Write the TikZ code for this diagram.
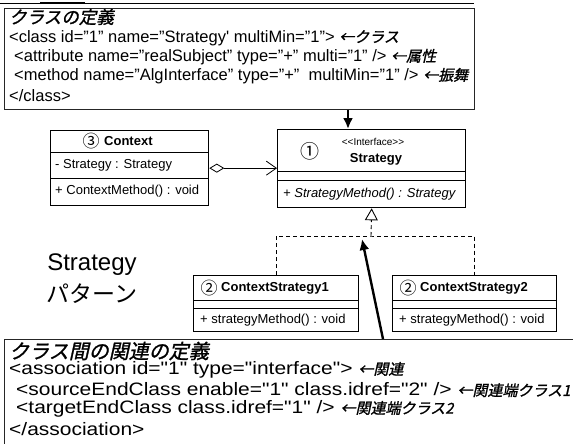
\documentclass[tikz,border=0pt]{standalone}
\usepackage{fontspec}
\setmainfont{Liberation Sans}
\newfontfamily\jpfont{Noto Sans CJK JP}
\newfontfamily\jpitfont{Noto Sans CJK JP}[FakeSlant=0.22,FakeBold=1.2]
\newfontfamily\botfont{Liberation Sans}[FakeStretch=1.165]
\usetikzlibrary{arrows.meta,calc}
\newcommand\myjpit[1]{{\jpitfont\fontsize{15}{15}\selectfont #1}}
\begin{document}
\begin{tikzpicture}[x=1pt,y=-1pt,
  frame/.style={draw=black!85, line width=0.8pt, inner sep=0pt, anchor=north west},
  umlbox/.style={draw=black, line width=1.3pt, inner sep=0pt, anchor=north west},
  umlsep/.style={draw=black, line width=0.9pt},
  topline/.style={anchor=west, inner sep=0pt, font=\fontsize{16.5}{18}\selectfont},
  botline/.style={anchor=west, inner sep=0pt, font=\botfont\fontsize{18}{20}\selectfont},
  umltext/.style={anchor=west, inner sep=0pt, font=\fontsize{13}{15}\selectfont},
  umlname/.style={anchor=west, inner sep=0pt, font=\bfseries\fontsize{13}{15}\selectfont},
  circnum/.style={inner sep=0pt, font=\jpfont\fontsize{17}{17}\selectfont},
  pointer/.style={line width=2.4pt, -{Latex[length=11pt,width=10pt]}},
  realize/.style={line width=0.9pt, dash pattern=on 4pt off 3pt},
  aggr/.style={line width=0.8pt, {Diamond[open, length=15pt, width=9pt, line width=0.8pt]}-{Straight Barb[length=10pt, width=14pt, line width=0.8pt]}},
]
\useasboundingbox (0,0) rectangle (573,444);

% top definition box
\draw[line width=0.7pt] (0,3) -- (474,3);
\draw[line width=1.8pt] (40,3) -- (85,3);
\node[frame, minimum width=470pt, minimum height=101pt] (classdef) at (4,8) {};
\node[topline, font=\jpitfont\fontsize{17.5}{18}\selectfont] (h1) at (9,17) {クラスの定義};
\node[topline] (c1) at (9,38) {<class id="1" name="Strategy\textquotesingle{} multiMin="1"> \myjpit{←クラス}};
\node[topline] (c2) at (14,57) {<attribute name="realSubject" type="+" multi="1" /> \myjpit{←属性}};
\node[topline] (c3) at (14,76) {<method name="AlgInterface" type="+"\ \ multiMin="1" /> \myjpit{←振舞}};
\node[topline] (c4) at (9,96) {</class>};

% bottom definition box
\node[frame, minimum width=600pt, minimum height=130pt] (assocdef) at (4,339) {};
\node[topline, font=\jpitfont\fontsize{20}{20}\selectfont] (h2) at (9,351) {クラス間の関連の定義};
\node[botline] (a1) at (9,370) {<association id="1" type="interface"> \myjpit{←関連}};
\node[botline] (a2) at (16,390) {<sourceEndClass enable="1" class.idref="2" /> \myjpit{←関連端クラス1}};
\node[botline] (a3) at (16,409) {<targetEndClass class.idref="1" /> \myjpit{←関連端クラス2}};
\node[botline] (a4) at (9,429) {</association>};

% Context class
\node[umlbox, minimum width=158pt, minimum height=75pt] (ctx) at (50,130) {};
\draw[umlsep] ($(ctx.north west)+(0,22)$) -- ($(ctx.north east)+(0,22)$);
\draw[umlsep] ($(ctx.north west)+(0,48)$) -- ($(ctx.north east)+(0,48)$);
\node[circnum] (ctxnum) at (91,141) {③};
\node[umlname] (ctxname) at (104,141) {Context};
\node[umltext] (ctxattr) at (55,165) {- Strategy : Strategy};
\node[umltext] (ctxop) at (55,191.5) {+ ContextMethod() : void};

% Strategy interface
\node[umlbox, minimum width=188pt, minimum height=78pt] (strat) at (277,129) {};
\draw[umlsep] ($(strat.north west)+(0,42)$) -- ($(strat.north east)+(0,42)$);
\draw[umlsep] ($(strat.north west)+(0,51)$) -- ($(strat.north east)+(0,51)$);
\node[circnum, font=\jpfont\fontsize{19}{19}\selectfont] (stratnum) at (310,151) {①};
\node[inner sep=0pt, font=\fontsize{10}{11}\selectfont] (stereo) at (373,142) {<{}<Interface>{}>};
\node[inner sep=0pt, font=\bfseries\fontsize{13}{15}\selectfont] (stratname) at (376,159) {Strategy};
\node[umltext, font=\itshape\fontsize{13}{15}\selectfont] (stratop) at (283,194) {+ StrategyMethod() : Strategy};

% ContextStrategy1
\node[umlbox, minimum width=165pt, minimum height=56pt] (cs1) at (193,275) {};
\draw[umlsep] ($(cs1.north west)+(0,25)$) -- ($(cs1.north east)+(0,25)$);
\draw[umlsep] ($(cs1.north west)+(0,33)$) -- ($(cs1.north east)+(0,33)$);
\node[circnum] (cs1num) at (209,288) {②};
\node[umlname] (cs1name) at (221,288) {ContextStrategy1};
\node[umltext] (cs1op) at (200,320) {+ strategyMethod() : void};

% ContextStrategy2
\node[umlbox, minimum width=164pt, minimum height=56pt] (cs2) at (392,275) {};
\draw[umlsep] ($(cs2.north west)+(0,25)$) -- ($(cs2.north east)+(0,25)$);
\draw[umlsep] ($(cs2.north west)+(0,33)$) -- ($(cs2.north east)+(0,33)$);
\node[circnum] (cs2num) at (408,288) {②};
\node[umlname] (cs2name) at (420,288) {ContextStrategy2};
\node[umltext] (cs2op) at (399,320) {+ strategyMethod() : void};

% pattern label
\node[inner sep=0pt, font=\fontsize{24}{24}\selectfont] (lbl1) at (92,265) {Strategy};
\node[inner sep=0pt, font=\jpfont\fontsize{23}{23}\selectfont] (lbl2) at (92,294) {パターン};

% connectors
\coordinate (downx) at (348,0);
\draw[pointer] (classdef.south -| downx) -- (strat.north -| downx);
\draw[aggr] (ctx.east) -- (ctx.east -| strat.west);
\coordinate (junc) at (371,236);
\draw[realize] (cs1.north) |- (junc) -| (cs2.north);
\draw[realize, -{Triangle[open, length=12pt, width=13pt, line width=0.9pt]}] (junc) -- (strat.south);
\coordinate (ptip) at (362,239);
\coordinate (ptailx) at (383,0);
\draw[pointer] (assocdef.north -| ptailx) -- (ptip);
\end{tikzpicture}
\end{document}
